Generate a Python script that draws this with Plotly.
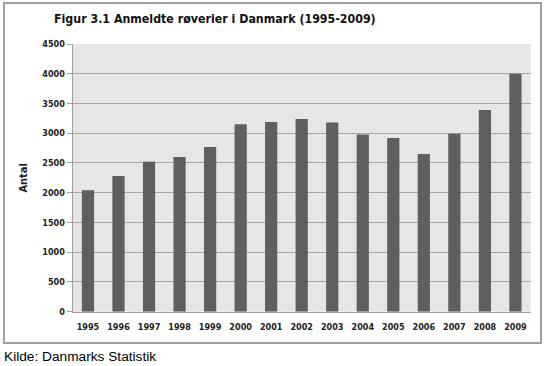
import plotly.graph_objects as go

years = ["1995", "1996", "1997", "1998", "1999", "2000", "2001", "2002",
         "2003", "2004", "2005", "2006", "2007", "2008", "2009"]
robberies = [2040, 2280, 2520, 2600, 2770, 3150, 3190, 3240,
             3180, 2980, 2920, 2650, 2990, 3390, 4000]
y_ticks = [0, 500, 1000, 1500, 2000, 2500, 3000, 3500, 4000, 4500]

W, H = 546, 366
x0, x1 = 72.7, 530.7
y_top, y_bot = 44, 311.7

tick_font = dict(size=9, family="DejaVu Sans Condensed, Liberation Sans", color="#222222")

fig = go.Figure(go.Bar(
    x=years, y=robberies,
    marker=dict(color="#5f5f5f", line=dict(width=0)),
    hoverinfo="x+y",
))

fig.update_layout(
    width=W, height=H,
    margin=dict(l=0, r=0, t=0, b=0, autoexpand=False),
    paper_bgcolor="white",
    plot_bgcolor="#e6e6e6",
    bargap=0.6,
    showlegend=False,
    font=dict(family="Liberation Sans, Arial, sans-serif", color="#222222"),
    xaxis=dict(
        domain=[x0 / W, x1 / W],
        tickvals=years,
        ticktext=["<b>%s</b>" % y for y in years],
        tickfont=tick_font,
        showgrid=False,
        showline=True, linecolor="#a0a0a0", linewidth=1,
        ticks="", ticklen=0,
        ticklabelstandoff=6,
        automargin=False,
        fixedrange=True,
    ),
    yaxis=dict(
        domain=[1 - y_bot / H, 1 - y_top / H],
        range=[0, 4500],
        tickvals=y_ticks,
        ticktext=["<b>%d</b>" % v for v in y_ticks],
        tickfont=tick_font,
        showgrid=True, gridcolor="#a6a6a6", gridwidth=1,
        showline=True, linecolor="#a0a0a0", linewidth=1,
        ticks="outside", ticklen=5, tickcolor="#a0a0a0",
        zeroline=False,
        automargin=False,
        title=dict(text="<b>Antal</b>", font=dict(size=11, family="DejaVu Sans Condensed, Liberation Sans", color="#222222"), standoff=12),
        fixedrange=True,
    ),
    shapes=[
        dict(type="rect", xref="paper", yref="paper",
             x0=4 / W, x1=541 / W, y0=1 - 343 / H, y1=1 - 3 / H,
             line=dict(color="#a0a0a0", width=2), fillcolor="rgba(0,0,0,0)",
             layer="below"),
    ],
    annotations=[
        dict(text="<b>Figur 3.1 Anmeldte røverier i Danmark (1995-2009)</b>",
             xref="paper", yref="paper", x=52 / W, y=1 - 19 / H,
             xanchor="left", yanchor="middle", showarrow=False,
             font=dict(size=12.3, family="DejaVu Sans Condensed, Liberation Sans", color="#111111")),
        dict(text="Kilde: Danmarks Statistik",
             xref="paper", yref="paper", x=2 / W, y=1 - 356 / H,
             xanchor="left", yanchor="middle", showarrow=False,
             font=dict(size=13.7, family="Liberation Sans, Arial", color="#000000")),
    ],
)

fig.write_html("out.html", config={"displayModeBar": False},
               post_script="document.body.style.margin='0';document.body.style.overflow='hidden';")
